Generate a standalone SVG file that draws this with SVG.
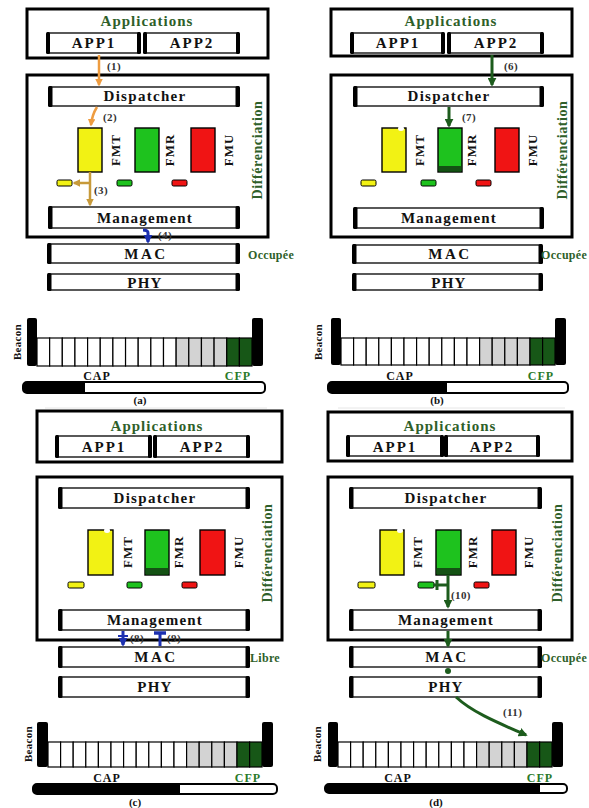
<svg xmlns="http://www.w3.org/2000/svg" width="589" height="808" viewBox="0 0 589 808">
<style>
.outer{fill:none;stroke:#000;stroke-width:3}
.box{fill:#fff;stroke:#000;stroke-width:1.3}
.bar{fill:#000}
.t{font-family:'Liberation Serif','Times New Roman','DejaVu Serif',serif;font-weight:bold;text-anchor:middle;fill:#111}
.app{font-size:15px;letter-spacing:2px}
.disp{font-size:15px;letter-spacing:1.3px}
.mgmt{font-size:15px;letter-spacing:1.2px}
.mac{font-size:15px;letter-spacing:2.5px}
.phy{font-size:15px;letter-spacing:1.2px}
.appl{font-size:15px;letter-spacing:1px;fill:#2f5f2a}
.diff{font-size:14px;letter-spacing:0.6px;fill:#2f5f2a}
.fm{font-size:13px;letter-spacing:1px}
.state{font-size:12px;letter-spacing:0.3px;fill:#2f5f2a;text-anchor:start}
.num{font-size:11px;letter-spacing:0.4px;text-anchor:start;fill:#333}
.cap{font-size:12px;letter-spacing:1px}
.cfp{font-size:12px;letter-spacing:1px;fill:#2a7a2a}
.bea{font-size:11px;letter-spacing:0.3px}
.sub{font-size:11px}
.y{fill:#f2f214;stroke:#000;stroke-width:1.4}
.g{fill:#1ec21e;stroke:#000;stroke-width:1.4}
.r{fill:#f01414;stroke:#000;stroke-width:1.4}
.sm{stroke:#000;stroke-width:1}
.slot{fill:#fff;stroke:#000;stroke-width:1.2}
.grey{fill:#d3d3d3;stroke:#000;stroke-width:1.2}
.dg{fill:#175717;stroke:#000;stroke-width:1.2}
.pb{fill:#fff;stroke:#000;stroke-width:2}
.faint{stroke:#e6e6e6;stroke-width:1}
.ao{fill:none;stroke:#ee9c40;stroke-width:2.5}
.at{fill:none;stroke:#c79a3a;stroke-width:2.5}
.ab{fill:none;stroke:#1c30b0;stroke-width:3}
.ag{fill:none;stroke:#1d5c1d;stroke-width:3}
</style>
<defs>
<marker id="mo" viewBox="0 0 10 10" refX="8" refY="5" markerWidth="3" markerHeight="3" orient="auto"><path d="M0,0 L10,5 L0,10 z" fill="#ee9c40"/></marker>
<marker id="mt" viewBox="0 0 10 10" refX="8" refY="5" markerWidth="3" markerHeight="3" orient="auto"><path d="M0,0 L10,5 L0,10 z" fill="#c79a3a"/></marker>
<marker id="mb" viewBox="0 0 10 10" refX="8" refY="5" markerWidth="3" markerHeight="3.5" orient="auto"><path d="M0,0 L10,5 L0,10 z" fill="#1c30b0"/></marker>
<marker id="mg" viewBox="0 0 10 10" refX="8" refY="5" markerWidth="3" markerHeight="3" orient="auto"><path d="M0,0 L10,5 L0,10 z" fill="#1d5c1d"/></marker>
</defs>

<!-- ================= PANEL (a) ================= -->
<g id="a-applications">
<rect class="outer" x="27" y="9" width="241" height="49"/>
<text class="t appl" x="147" y="26">Applications</text>
</g>
<g id="a-app1"><rect class="box" x="48" y="33" width="91" height="20"/><rect class="bar" x="46" y="32" width="4" height="22" rx="1.5"/><rect class="bar" x="137" y="32" width="4" height="22" rx="1.5"/><text class="t app" x="94" y="48">APP1</text></g>
<g id="a-app2"><rect class="box" x="145" y="33" width="93" height="20"/><rect class="bar" x="143" y="32" width="4" height="22" rx="1.5"/><rect class="bar" x="236" y="32" width="4" height="22" rx="1.5"/><text class="t app" x="192" y="48">APP2</text></g>
<g id="a-differenciation">
<rect class="outer" x="27" y="75" width="241" height="162"/>
<text class="t diff" transform="translate(257,150) rotate(-90)" dominant-baseline="central">Différenciation</text>
</g>
<g id="a-dispatcher"><rect class="box" x="50" y="87" width="188" height="19"/><rect class="bar" x="48" y="86" width="4.5" height="21" rx="1.5"/><rect class="bar" x="235.5" y="86" width="4.5" height="21" rx="1.5"/><text class="t disp" x="145" y="101">Dispatcher</text></g>
<g id="a-fmt"><rect class="y" x="78" y="128" width="24" height="44"/><text class="t fm" transform="translate(115,150) rotate(-90)" dominant-baseline="central">FMT</text><rect class="y sm" x="57" y="180" width="15" height="6" rx="1.5"/></g>
<g id="a-fmr"><rect class="g" x="135" y="128" width="24" height="44"/><text class="t fm" transform="translate(169,150) rotate(-90)" dominant-baseline="central">FMR</text><rect class="g sm" x="117" y="180" width="15" height="6" rx="1.5"/></g>
<g id="a-fmu"><rect class="r" x="191" y="128" width="24" height="44"/><text class="t fm" transform="translate(228,150) rotate(-90)" dominant-baseline="central">FMU</text><rect class="r sm" x="172" y="180" width="15" height="6" rx="1.5"/></g>
<g id="a-management"><rect class="box" x="50" y="207" width="188" height="21"/><rect class="bar" x="48" y="206" width="4.5" height="23" rx="1.5"/><rect class="bar" x="235.5" y="206" width="4.5" height="23" rx="1.5"/><text class="t mgmt" x="145" y="223">Management</text></g>
<g id="a-mac"><rect class="box" x="49" y="244" width="189" height="19"/><rect class="bar" x="47" y="243" width="4.5" height="21" rx="1.5"/><rect class="bar" x="235.5" y="243" width="4.5" height="21" rx="1.5"/><text class="t mac" x="146" y="259">MAC</text><text class="t state" x="248" y="259">Occupée</text></g>
<g id="a-phy"><rect class="box" x="49" y="274" width="189" height="16"/><rect class="bar" x="47" y="273" width="4.5" height="18" rx="1.5"/><rect class="bar" x="235.5" y="273" width="4.5" height="18" rx="1.5"/><text class="t phy" x="145" y="288">PHY</text></g>
<g id="a-superframe">
<rect class="bar" x="27" y="318" width="10" height="48" rx="2"/>
<rect class="bar" x="252" y="318" width="11" height="48" rx="2"/>
<g transform="translate(37,338)">
<rect class="slot" x="0" y="0" width="12.65" height="28"/><rect class="slot" x="12.65" y="0" width="12.65" height="28"/><rect class="slot" x="25.3" y="0" width="12.65" height="28"/><rect class="slot" x="37.95" y="0" width="12.65" height="28"/><rect class="slot" x="50.6" y="0" width="12.65" height="28"/><rect class="slot" x="63.25" y="0" width="12.65" height="28"/><rect class="slot" x="75.9" y="0" width="12.65" height="28"/><rect class="slot" x="88.55" y="0" width="12.65" height="28"/><rect class="slot" x="101.2" y="0" width="12.65" height="28"/><rect class="slot" x="113.85" y="0" width="12.65" height="28"/><rect class="slot" x="126.5" y="0" width="12.65" height="28"/>
<rect class="grey" x="139.15" y="0" width="12.65" height="28"/><rect class="grey" x="151.8" y="0" width="12.65" height="28"/><rect class="grey" x="164.45" y="0" width="12.65" height="28"/><rect class="grey" x="177.1" y="0" width="12.65" height="28"/>
<rect class="dg" x="189.75" y="0" width="12.65" height="28"/><rect class="dg" x="202.4" y="0" width="12.6" height="28"/>
</g>
<text class="t bea" transform="translate(17,342) rotate(-90)" dominant-baseline="central">Beacon</text>
<text class="t cap" x="97" y="380">CAP</text>
<text class="t cfp" x="238" y="380">CFP</text>
<rect class="pb" x="23" y="382" width="242" height="11" rx="4"/>
<rect class="bar" x="23" y="382" width="62" height="11" rx="4"/><rect class="bar" x="78" y="382" width="7" height="11"/>
<text class="t sub" x="140" y="404">(a)</text>
<line class="faint" x1="45" y1="408" x2="267" y2="408"/>
</g>

<!-- ================= PANEL (b) ================= -->
<g id="b-applications">
<rect class="outer" x="331" y="9" width="241" height="47"/>
<text class="t appl" x="451" y="26">Applications</text>
</g>
<g id="b-app1"><rect class="box" x="352" y="33" width="91" height="20"/><rect class="bar" x="350" y="32" width="4" height="22" rx="1.5"/><rect class="bar" x="441" y="32" width="4" height="22" rx="1.5"/><text class="t app" x="398" y="48">APP1</text></g>
<g id="b-app2"><rect class="box" x="449" y="33" width="93" height="20"/><rect class="bar" x="447" y="32" width="4" height="22" rx="1.5"/><rect class="bar" x="540" y="32" width="4" height="22" rx="1.5"/><text class="t app" x="496" y="48">APP2</text></g>
<g id="b-differenciation">
<rect class="outer" x="331" y="75" width="241" height="162"/>
<text class="t diff" transform="translate(562,150) rotate(-90)" dominant-baseline="central">Différenciation</text>
</g>
<g id="b-dispatcher"><rect class="box" x="355" y="87" width="187" height="19"/><rect class="bar" x="353" y="86" width="4.5" height="21" rx="1.5"/><rect class="bar" x="539.5" y="86" width="4.5" height="21" rx="1.5"/><text class="t disp" x="449" y="101">Dispatcher</text></g>
<g id="b-fmt"><rect class="y" x="382" y="128" width="24" height="44"/><ellipse cx="401" cy="128.5" rx="3" ry="2.5" fill="#fff"/><text class="t fm" transform="translate(419,150) rotate(-90)" dominant-baseline="central">FMT</text><rect class="y sm" x="361" y="180" width="15" height="6" rx="1.5"/></g>
<g id="b-fmr"><rect class="g" x="438" y="128" width="24" height="44"/><rect x="438.7" y="166" width="22.6" height="5.3" fill="#145214"/><text class="t fm" transform="translate(471,150) rotate(-90)" dominant-baseline="central">FMR</text><rect class="g sm" x="421" y="180" width="15" height="6" rx="1.5"/></g>
<g id="b-fmu"><rect class="r" x="495" y="128" width="24" height="44"/><text class="t fm" transform="translate(532,150) rotate(-90)" dominant-baseline="central">FMU</text><rect class="r sm" x="476" y="180" width="15" height="6" rx="1.5"/></g>
<g id="b-management"><rect class="box" x="355" y="208" width="187" height="20"/><rect class="bar" x="353" y="207" width="4.5" height="22" rx="1.5"/><rect class="bar" x="539.5" y="207" width="4.5" height="22" rx="1.5"/><text class="t mgmt" x="449" y="223">Management</text></g>
<g id="b-mac"><rect class="box" x="354" y="245" width="187" height="18"/><rect class="bar" x="352" y="244" width="4.5" height="20" rx="1.5"/><rect class="bar" x="538.5" y="244" width="4.5" height="20" rx="1.5"/><text class="t mac" x="450" y="259">MAC</text><text class="t state" x="541" y="259">Occupée</text></g>
<g id="b-phy"><rect class="box" x="354" y="274" width="187" height="16"/><rect class="bar" x="352" y="273" width="4.5" height="18" rx="1.5"/><rect class="bar" x="538.5" y="273" width="4.5" height="18" rx="1.5"/><text class="t phy" x="449" y="288">PHY</text></g>
<g id="b-superframe">
<rect class="bar" x="331" y="318" width="10" height="47" rx="2"/>
<rect class="bar" x="555" y="318" width="11" height="47" rx="2"/>
<g transform="translate(341,338)">
<rect class="slot" x="0" y="0" width="12.6" height="27"/><rect class="slot" x="12.6" y="0" width="12.6" height="27"/><rect class="slot" x="25.2" y="0" width="12.6" height="27"/><rect class="slot" x="37.8" y="0" width="12.6" height="27"/><rect class="slot" x="50.4" y="0" width="12.6" height="27"/><rect class="slot" x="63" y="0" width="12.6" height="27"/><rect class="slot" x="75.6" y="0" width="12.6" height="27"/><rect class="slot" x="88.2" y="0" width="12.6" height="27"/><rect class="slot" x="100.8" y="0" width="12.6" height="27"/><rect class="slot" x="113.4" y="0" width="12.6" height="27"/><rect class="slot" x="126" y="0" width="12.6" height="27"/>
<rect class="grey" x="138.6" y="0" width="12.6" height="27"/><rect class="grey" x="151.2" y="0" width="12.6" height="27"/><rect class="grey" x="163.8" y="0" width="12.6" height="27"/><rect class="grey" x="176.4" y="0" width="12.6" height="27"/>
<rect class="dg" x="189" y="0" width="12.6" height="27"/><rect class="dg" x="201.6" y="0" width="12.4" height="27"/>
</g>
<text class="t bea" transform="translate(318,342) rotate(-90)" dominant-baseline="central">Beacon</text>
<text class="t cap" x="400" y="380">CAP</text>
<text class="t cfp" x="541" y="380">CFP</text>
<rect class="pb" x="328" y="382" width="240" height="11" rx="4"/>
<rect class="bar" x="328" y="382" width="119" height="11" rx="4"/><rect class="bar" x="440" y="382" width="7" height="11"/>
<text class="t sub" x="437" y="404">(b)</text>
<line class="faint" x1="338" y1="408" x2="565" y2="408"/>
</g>

<!-- ================= PANEL (c) ================= -->
<g id="c-applications">
<rect class="outer" x="37" y="411" width="245" height="51"/>
<text class="t appl" x="157" y="431">Applications</text>
</g>
<g id="c-app1"><rect class="box" x="57" y="436" width="93" height="21"/><rect class="bar" x="55" y="435" width="4" height="23" rx="1.5"/><rect class="bar" x="148" y="435" width="4" height="23" rx="1.5"/><text class="t app" x="104" y="452">APP1</text></g>
<g id="c-app2"><rect class="box" x="155" y="436" width="93" height="21"/><rect class="bar" x="153" y="435" width="4" height="23" rx="1.5"/><rect class="bar" x="246" y="435" width="4" height="23" rx="1.5"/><text class="t app" x="202" y="452">APP2</text></g>
<g id="c-differenciation">
<rect class="outer" x="37" y="477" width="245" height="163"/>
<text class="t diff" transform="translate(267,553) rotate(-90)" dominant-baseline="central">Différenciation</text>
</g>
<g id="c-dispatcher"><rect class="box" x="60" y="488" width="188" height="20"/><rect class="bar" x="58" y="487" width="4.5" height="22" rx="1.5"/><rect class="bar" x="245.5" y="487" width="4.5" height="22" rx="1.5"/><text class="t disp" x="155" y="503">Dispatcher</text></g>
<g id="c-fmt"><rect class="y" x="88" y="530" width="25" height="45"/><ellipse cx="107" cy="530.5" rx="3" ry="2.5" fill="#fff"/><text class="t fm" transform="translate(127,552) rotate(-90)" dominant-baseline="central">FMT</text><rect class="y sm" x="68" y="582" width="16" height="6" rx="1.5"/></g>
<g id="c-fmr"><rect class="g" x="145" y="530" width="24" height="45"/><rect x="145.7" y="568" width="22.6" height="6.3" fill="#145214"/><text class="t fm" transform="translate(178,552) rotate(-90)" dominant-baseline="central">FMR</text><rect class="g sm" x="127" y="582" width="15" height="6" rx="1.5"/></g>
<g id="c-fmu"><rect class="r" x="200" y="530" width="25" height="45"/><text class="t fm" transform="translate(238,552) rotate(-90)" dominant-baseline="central">FMU</text><rect class="r sm" x="182" y="582" width="15" height="6" rx="1.5"/></g>
<g id="c-management"><rect class="box" x="60" y="610" width="188" height="20"/><rect class="bar" x="58" y="609" width="4.5" height="22" rx="1.5"/><rect class="bar" x="245.5" y="609" width="4.5" height="22" rx="1.5"/><text class="t mgmt" x="155" y="625">Management</text></g>
<g id="c-mac"><rect class="box" x="60" y="647" width="188" height="20"/><rect class="bar" x="58" y="646" width="4.5" height="22" rx="1.5"/><rect class="bar" x="245.5" y="646" width="4.5" height="22" rx="1.5"/><text class="t mac" x="156" y="662">MAC</text><text class="t state" x="250" y="662">Libre</text></g>
<g id="c-phy"><rect class="box" x="60" y="677" width="188" height="20"/><rect class="bar" x="58" y="676" width="4.5" height="22" rx="1.5"/><rect class="bar" x="245.5" y="676" width="4.5" height="22" rx="1.5"/><text class="t phy" x="155" y="692">PHY</text></g>
<g id="c-superframe">
<rect class="bar" x="37" y="722" width="11" height="45" rx="2"/>
<rect class="bar" x="262" y="722" width="11" height="45" rx="2"/>
<g transform="translate(48,742)">
<rect class="slot" x="0" y="0" width="12.6" height="25"/><rect class="slot" x="12.6" y="0" width="12.6" height="25"/><rect class="slot" x="25.2" y="0" width="12.6" height="25"/><rect class="slot" x="37.8" y="0" width="12.6" height="25"/><rect class="slot" x="50.4" y="0" width="12.6" height="25"/><rect class="slot" x="63" y="0" width="12.6" height="25"/><rect class="slot" x="75.6" y="0" width="12.6" height="25"/><rect class="slot" x="88.2" y="0" width="12.6" height="25"/><rect class="slot" x="100.8" y="0" width="12.6" height="25"/><rect class="slot" x="113.4" y="0" width="12.6" height="25"/><rect class="slot" x="126" y="0" width="12.6" height="25"/>
<rect class="grey" x="138.6" y="0" width="12.6" height="25"/><rect class="grey" x="151.2" y="0" width="12.6" height="25"/><rect class="grey" x="163.8" y="0" width="12.6" height="25"/><rect class="grey" x="176.4" y="0" width="12.6" height="25"/>
<rect class="dg" x="189" y="0" width="12.6" height="25"/><rect class="dg" x="201.6" y="0" width="12.4" height="25"/>
</g>
<text class="t bea" transform="translate(28,744) rotate(-90)" dominant-baseline="central">Beacon</text>
<text class="t cap" x="107" y="782">CAP</text>
<text class="t cfp" x="248" y="782">CFP</text>
<rect class="pb" x="33" y="784" width="244" height="10" rx="4"/>
<rect class="bar" x="33" y="784" width="147" height="10" rx="4"/><rect class="bar" x="173" y="784" width="7" height="10"/>
<text class="t sub" x="135" y="806">(c)</text>
</g>

<!-- ================= PANEL (d) ================= -->
<g id="d-applications">
<rect class="outer" x="328" y="412" width="244" height="49"/>
<text class="t appl" x="450" y="431">Applications</text>
</g>
<g id="d-app1"><rect class="box" x="348" y="436" width="94" height="20"/><rect class="bar" x="346" y="435" width="4" height="22" rx="1.5"/><rect class="bar" x="440" y="435" width="4" height="22" rx="1.5"/><text class="t app" x="395" y="452">APP1</text></g>
<g id="d-app2"><rect class="box" x="446" y="436" width="92" height="20"/><rect class="bar" x="444" y="435" width="4" height="22" rx="1.5"/><rect class="bar" x="536" y="435" width="4" height="22" rx="1.5"/><text class="t app" x="492" y="452">APP2</text></g>
<g id="d-differenciation">
<rect class="outer" x="328" y="477" width="244" height="163"/>
<text class="t diff" transform="translate(557,553) rotate(-90)" dominant-baseline="central">Différenciation</text>
</g>
<g id="d-dispatcher"><rect class="box" x="351" y="488" width="189" height="20"/><rect class="bar" x="349" y="487" width="4.5" height="22" rx="1.5"/><rect class="bar" x="537.5" y="487" width="4.5" height="22" rx="1.5"/><text class="t disp" x="446" y="503">Dispatcher</text></g>
<g id="d-fmt"><rect class="y" x="380" y="530" width="24" height="45"/><ellipse cx="400" cy="530.5" rx="3" ry="2.5" fill="#fff"/><text class="t fm" transform="translate(417,552) rotate(-90)" dominant-baseline="central">FMT</text><rect class="y sm" x="358" y="582" width="17" height="6" rx="1.5"/></g>
<g id="d-fmr"><rect class="g" x="436" y="530" width="25" height="45"/><rect x="436.7" y="568" width="23.6" height="6.3" fill="#145214"/><text class="t fm" transform="translate(472,552) rotate(-90)" dominant-baseline="central">FMR</text><rect class="g sm" x="418" y="582" width="16" height="6" rx="1.5"/></g>
<g id="d-fmu"><rect class="r" x="492" y="530" width="24" height="45"/><text class="t fm" transform="translate(528,552) rotate(-90)" dominant-baseline="central">FMU</text><rect class="r sm" x="474" y="582" width="15" height="6" rx="1.5"/></g>
<g id="d-management"><rect class="box" x="351" y="610" width="189" height="20"/><rect class="bar" x="349" y="609" width="4.5" height="22" rx="1.5"/><rect class="bar" x="537.5" y="609" width="4.5" height="22" rx="1.5"/><text class="t mgmt" x="446" y="625">Management</text></g>
<g id="d-mac"><rect class="box" x="351" y="647" width="189" height="20"/><rect class="bar" x="349" y="646" width="4.5" height="22" rx="1.5"/><rect class="bar" x="537.5" y="646" width="4.5" height="22" rx="1.5"/><text class="t mac" x="447" y="662">MAC</text><text class="t state" x="541" y="662">Occupée</text></g>
<g id="d-phy"><rect class="box" x="351" y="677" width="189" height="20"/><rect class="bar" x="349" y="676" width="4.5" height="22" rx="1.5"/><rect class="bar" x="537.5" y="676" width="4.5" height="22" rx="1.5"/><text class="t phy" x="446" y="692">PHY</text></g>
<g id="d-superframe">
<rect class="bar" x="328" y="722" width="10" height="45" rx="2"/>
<rect class="bar" x="552" y="722" width="11" height="45" rx="2"/>
<g transform="translate(338,742)">
<rect class="slot" x="0" y="0" width="12.6" height="25"/><rect class="slot" x="12.6" y="0" width="12.6" height="25"/><rect class="slot" x="25.2" y="0" width="12.6" height="25"/><rect class="slot" x="37.8" y="0" width="12.6" height="25"/><rect class="slot" x="50.4" y="0" width="12.6" height="25"/><rect class="slot" x="63" y="0" width="12.6" height="25"/><rect class="slot" x="75.6" y="0" width="12.6" height="25"/><rect class="slot" x="88.2" y="0" width="12.6" height="25"/><rect class="slot" x="100.8" y="0" width="12.6" height="25"/><rect class="slot" x="113.4" y="0" width="12.6" height="25"/><rect class="slot" x="126" y="0" width="12.6" height="25"/>
<rect class="grey" x="138.6" y="0" width="12.6" height="25"/><rect class="grey" x="151.2" y="0" width="12.6" height="25"/><rect class="grey" x="163.8" y="0" width="12.6" height="25"/><rect class="grey" x="176.4" y="0" width="12.6" height="25"/>
<rect class="dg" x="189" y="0" width="12.6" height="25"/><rect class="dg" x="201.6" y="0" width="12.4" height="25"/>
</g>
<text class="t bea" transform="translate(317,744) rotate(-90)" dominant-baseline="central">Beacon</text>
<text class="t cap" x="398" y="782">CAP</text>
<text class="t cfp" x="540" y="782">CFP</text>
<rect class="pb" x="325" y="784" width="242" height="9" rx="4"/>
<rect class="bar" x="325" y="784" width="215" height="9" rx="4"/><rect class="bar" x="533" y="784" width="7" height="9"/>
<text class="t sub" x="436" y="806">(d)</text>
</g>

<!-- ================= CONNECTORS ================= -->
<g id="connectors">
<line class="ao" x1="99" y1="55" x2="99" y2="85" marker-end="url(#mo)"/>
<text class="t num" x="107" y="70">(1)</text>
<path class="ao" d="M97,107 Q92,115 91,125" marker-end="url(#mo)"/>
<text class="t num" x="103" y="121">(2)</text>
<line class="at" x1="90" y1="172" x2="90" y2="205" marker-end="url(#mt)"/>
<line class="at" x1="90" y1="183" x2="74" y2="183" marker-end="url(#mt)"/>
<text class="t num" x="94" y="194">(3)</text>
<path class="ab" d="M143,230 Q148,230 148,233 L148,242" marker-end="url(#mb)"/>
<text class="t num" x="158" y="239">(4)</text>
<line class="ag" x1="492" y1="55" x2="492" y2="85" marker-end="url(#mg)"/>
<text class="t num" x="504" y="70">(6)</text>
<line class="ag" x1="449" y1="107" x2="449" y2="126" marker-end="url(#mg)"/>
<text class="t num" x="462" y="121">(7)</text>
<line class="ab" x1="123" y1="631" x2="123" y2="645" marker-end="url(#mb)"/>
<line class="ab" x1="118" y1="636" x2="128" y2="636" style="stroke-width:2"/>
<text class="t num" x="130" y="642">(8)</text>
<line class="ab" x1="160" y1="646" x2="160" y2="634"/>
<line class="ab" x1="154" y1="633" x2="166" y2="633" style="stroke-width:3.5"/>
<text class="t num" x="167" y="642">(9)</text>
<line class="ag" x1="448" y1="575" x2="448" y2="607" marker-end="url(#mg)"/>
<line class="ag" x1="448" y1="585" x2="433" y2="585"/>
<line class="ag" x1="437" y1="580" x2="437" y2="590"/>
<text class="t num" x="451" y="599">(10)</text>
<line class="ag" x1="448" y1="631" x2="448" y2="646" marker-end="url(#mg)"/>
<circle cx="448" cy="671" r="3" fill="#1d5c1d"/>
<path class="ag" d="M456,697 C472,712 496,722 526,735" marker-end="url(#mg)"/>
<text class="t num" x="503" y="716">(11)</text>
</g>
</svg>
